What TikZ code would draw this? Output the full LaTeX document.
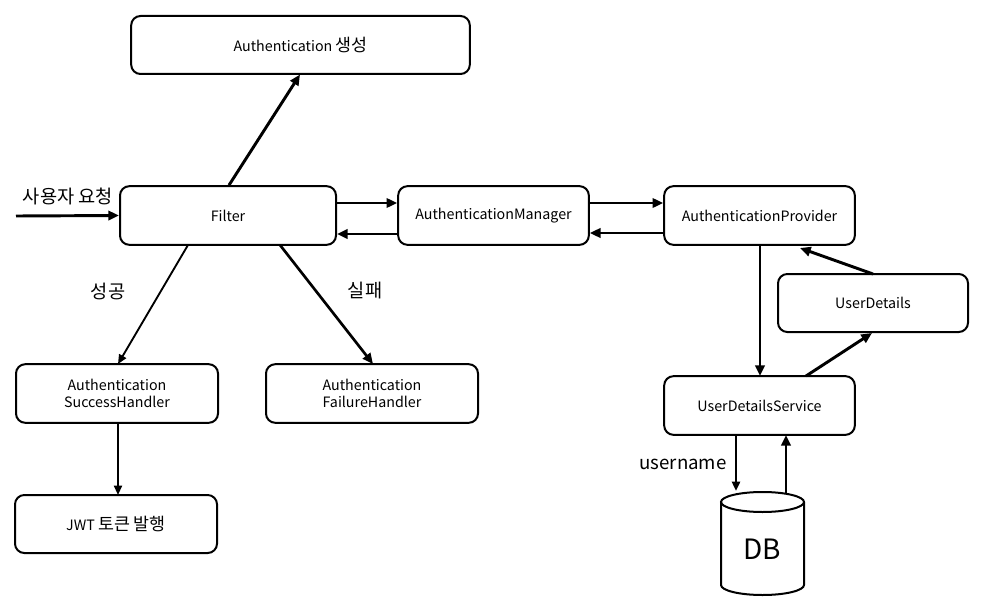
\documentclass[tikz,border=0pt]{standalone}
\usepackage{fontspec}
\setmainfont{Noto Sans CJK KR}
\newcommand\krt[1]{{\fontsize{13}{14}\selectfont #1}}
\usetikzlibrary{arrows.meta}
\begin{document}
\begin{tikzpicture}[x=0.75pt,y=-0.75pt,
  box/.style={draw,line width=1.5pt,rounded corners=7pt,font=\fontsize{10.7}{12.5}\selectfont,align=center,inner sep=0pt},
  thk/.style={line width=2.2pt,-{Triangle[length=8pt,width=7pt]}},
  thn/.style={line width=1.4pt,-{Triangle[length=7pt,width=6pt]}},
  lbl/.style={font=\fontsize{14}{16}\selectfont}]
\useasboundingbox (0,0) rectangle (988,613);
\node[box,minimum width=254pt,minimum height=43.5pt] (gen) at (300.5,45) {Authentication \krt{생성}};
\node[box,minimum width=162pt,minimum height=44pt] (filter) at (228,215.5) {Filter};
\node[box,minimum width=143pt,minimum height=44pt] (mgr) at (493.5,215.5) {AuthenticationManager};
\node[box,minimum width=143pt,minimum height=44pt] (prov) at (759.5,215.5) {AuthenticationProvider};
\node[box,minimum width=142.5pt,minimum height=43.5pt] (ud) at (873,303) {UserDetails};
\node[box,minimum width=143pt,minimum height=44pt] (uds) at (759.5,405.5) {UserDetailsService};
\node[box,minimum width=151.5pt,minimum height=44pt] (succ) at (117,393.5) {Authentication\\[0.5pt]SuccessHandler};
\node[box,minimum width=159pt,minimum height=44pt] (fail) at (372,393.5) {Authentication\\[0.5pt]FailureHandler};
\node[box,minimum width=151.5pt,minimum height=43.5pt] (jwt) at (116,524) {JWT \krt{토큰 발행}};
% DB cylinder
\node[minimum width=62pt,minimum height=77pt,inner sep=0pt] (db) at (762.5,543.5) {};
\draw[line width=1.5pt] (721,502) -- (721,585) arc[start angle=180,end angle=0,x radius=41.5,y radius=10] -- (804,502);
\draw[line width=1.5pt] (762.5,502) ellipse[x radius=41.5,y radius=10];
\node[font=\fontsize{21}{24}\selectfont] at (762.5,549) {DB};
\coordinate (start) at (16,216);
\draw[thk] (start) -- (filter.west);
\node[lbl] at (68,196) {사용자 요청};
\draw[thk] (filter.north) ++(1,0) coordinate (f1) (f1) -- (300,74.5);
\draw[thk] (336,203) coordinate (a1) (a1) -- (mgr.west |- a1);
\draw[thk] (mgr.west |- 0,234) coordinate (a2) (a2) -- (filter.east |- a2);
\draw[thk] (589,203) coordinate (a3) (a3) -- (prov.west |- a3);
\draw[thk] (prov.west |- 0,233) coordinate (a4) (a4) -- (mgr.east |- a4);
\draw[thn] (188,245) coordinate (b1) (b1) -- (118,364);
\node[lbl] at (108,291) {성공};
\draw[line width=2pt,-{Triangle[length=8pt,width=7pt]}] (280,245) coordinate (b2) (b2) -- (373,364);
\node[lbl] at (365,291) {실패};
\draw[thn] (118,423) coordinate (b3) (b3) -- (118,495);
\draw[thk] (760,245) coordinate (c1) (c1) -- (760,376);
\draw[thk] (806,376) coordinate (c2) (c2) -- (872,333);
\draw[thk] (873,274) coordinate (c3) (c3) -- (800,248);
\draw[line width=1.8pt,-{Triangle[length=7pt,width=6pt]}] (736,435) coordinate (d1) (d1) -- (736,491);
\node[lbl] at (683,464) {username};
\draw[thk] (786,493) coordinate (d2) (d2) -- (786,435);
\end{tikzpicture}
\end{document}
